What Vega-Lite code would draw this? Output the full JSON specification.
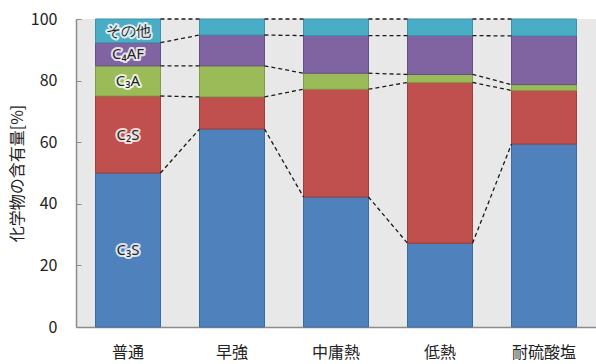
{
  "$schema": "https://vega.github.io/schema/vega-lite/v6.json",
  "width": 520,
  "height": 308,
  "autosize": "none",
  "padding": {"left": 76, "top": 19, "right": 0, "bottom": 37},
  "background": "white",
  "config": {
    "view": {"fill": "#E8E8E8", "stroke": null},
    "font": "Noto Sans CJK JP"
  },
  "data": {
    "values": [
      {"cement": "普通", "ci": 1, "comp": "C₃S", "k": 1, "value": 50.0},
      {"cement": "普通", "ci": 1, "comp": "C₂S", "k": 2, "value": 25.0},
      {"cement": "普通", "ci": 1, "comp": "C₃A", "k": 3, "value": 9.8},
      {"cement": "普通", "ci": 1, "comp": "C₄AF", "k": 4, "value": 7.5},
      {"cement": "普通", "ci": 1, "comp": "その他", "k": 5, "value": 7.7},
      {"cement": "早強", "ci": 2, "comp": "C₃S", "k": 1, "value": 64.3},
      {"cement": "早強", "ci": 2, "comp": "C₂S", "k": 2, "value": 10.4},
      {"cement": "早強", "ci": 2, "comp": "C₃A", "k": 3, "value": 10.1},
      {"cement": "早強", "ci": 2, "comp": "C₄AF", "k": 4, "value": 10.0},
      {"cement": "早強", "ci": 2, "comp": "その他", "k": 5, "value": 5.2},
      {"cement": "中庸熱", "ci": 3, "comp": "C₃S", "k": 1, "value": 42.2},
      {"cement": "中庸熱", "ci": 3, "comp": "C₂S", "k": 2, "value": 35.0},
      {"cement": "中庸熱", "ci": 3, "comp": "C₃A", "k": 3, "value": 5.2},
      {"cement": "中庸熱", "ci": 3, "comp": "C₄AF", "k": 4, "value": 12.2},
      {"cement": "中庸熱", "ci": 3, "comp": "その他", "k": 5, "value": 5.4},
      {"cement": "低熱", "ci": 4, "comp": "C₃S", "k": 1, "value": 27.2},
      {"cement": "低熱", "ci": 4, "comp": "C₂S", "k": 2, "value": 52.2},
      {"cement": "低熱", "ci": 4, "comp": "C₃A", "k": 3, "value": 2.6},
      {"cement": "低熱", "ci": 4, "comp": "C₄AF", "k": 4, "value": 12.6},
      {"cement": "低熱", "ci": 4, "comp": "その他", "k": 5, "value": 5.4},
      {"cement": "耐硫酸塩", "ci": 5, "comp": "C₃S", "k": 1, "value": 59.4},
      {"cement": "耐硫酸塩", "ci": 5, "comp": "C₂S", "k": 2, "value": 17.4},
      {"cement": "耐硫酸塩", "ci": 5, "comp": "C₃A", "k": 3, "value": 1.9},
      {"cement": "耐硫酸塩", "ci": 5, "comp": "C₄AF", "k": 4, "value": 15.8},
      {"cement": "耐硫酸塩", "ci": 5, "comp": "その他", "k": 5, "value": 5.5}
    ]
  },
  "transform": [
    {"stack": "value", "groupby": ["cement"], "sort": [{"field": "k", "order": "ascending"}], "as": ["y0", "y1"]}
  ],
  "layer": [
    {
      "mark": {"type": "bar", "strokeWidth": 1},
      "encoding": {
        "x": {
          "field": "cement", "type": "nominal",
          "sort": ["普通", "早強", "中庸熱", "低熱", "耐硫酸塩"],
          "scale": {"paddingInner": 0.375, "paddingOuter": 0.1875},
          "axis": {
            "title": null, "labelAngle": 0, "ticks": false, "labelPadding": 17,
            "labelFontSize": 16, "labelColor": "#222", "domainColor": "#8c8c8c", "domainWidth": 1.5
          }
        },
        "y": {
          "field": "y0", "type": "quantitative",
          "scale": {"domain": [0, 100], "nice": false},
          "axis": {
            "title": "化学物の含有量[%]", "titleFontSize": 16, "titleFontWeight": "normal", "titleColor": "#222",
            "titlePadding": 5,
            "values": [0, 20, 40, 60, 80, 100], "grid": false,
            "tickSize": -5, "tickColor": "#8c8c8c", "domainColor": "#8c8c8c", "domainWidth": 1.5,
            "labelPadding": 24, "labelFontSize": 16, "labelColor": "#222"
          }
        },
        "y2": {"field": "y1"},
        "fill": {
          "field": "comp", "type": "nominal",
          "scale": {"domain": ["C₃S", "C₂S", "C₃A", "C₄AF", "その他"], "range": ["#4F81BD", "#C0504D", "#9BBB59", "#8064A2", "#4BACC6"]},
          "legend": null
        },
        "stroke": {
          "field": "comp", "type": "nominal",
          "scale": {"domain": ["C₃S", "C₂S", "C₃A", "C₄AF", "その他"], "range": ["#3D6CA3", "#A03E3B", "#7F9C47", "#664E88", "#3993AB"]},
          "legend": null
        }
      }
    },
    {
      "transform": [
        {"window": [{"op": "lead", "field": "y1", "as": "ny"}, {"op": "lead", "field": "cement", "as": "nc"}], "groupby": ["comp"], "sort": [{"field": "ci", "order": "ascending"}]},
        {"filter": "datum.nc != null"}
      ],
      "mark": {"type": "rule", "strokeDash": [4, 3], "color": "#1a1a1a", "strokeWidth": 1.3},
      "encoding": {
        "x": {"field": "cement", "type": "nominal", "sort": ["普通", "早強", "中庸熱", "低熱", "耐硫酸塩"], "bandPosition": 1},
        "x2": {"field": "nc", "bandPosition": 0},
        "y": {"field": "y1", "type": "quantitative"},
        "y2": {"field": "ny"}
      }
    },
    {
      "transform": [
        {"filter": "datum.cement == '普通'"},
        {"calculate": "(datum.y0 + datum.y1) / 2", "as": "mid"}
      ],
      "mark": {"type": "text", "font": "Noto Sans", "fontSize": 15, "stroke": "white", "strokeWidth": 4, "strokeOpacity": 0.8, "strokeJoin": "round", "fill": "white", "baseline": "middle"},
      "encoding": {
        "x": {"field": "cement", "type": "nominal", "sort": ["普通", "早強", "中庸熱", "低熱", "耐硫酸塩"]},
        "y": {"field": "mid", "type": "quantitative"},
        "text": {"field": "comp"}
      }
    },
    {
      "transform": [
        {"filter": "datum.cement == '普通'"},
        {"calculate": "(datum.y0 + datum.y1) / 2", "as": "mid"}
      ],
      "mark": {"type": "text", "font": "Noto Sans", "fontSize": 15, "fill": "#222", "baseline": "middle"},
      "encoding": {
        "x": {"field": "cement", "type": "nominal", "sort": ["普通", "早強", "中庸熱", "低熱", "耐硫酸塩"]},
        "y": {"field": "mid", "type": "quantitative"},
        "text": {"field": "comp"}
      }
    }
  ]
}
